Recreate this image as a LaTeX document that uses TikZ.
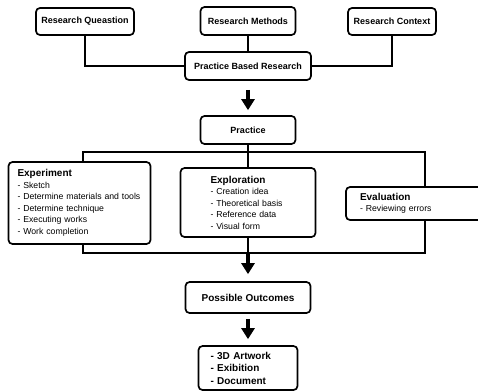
\documentclass[tikz,border=0pt]{standalone}
\usepackage{fontspec}
\setmainfont{Liberation Sans}
\usetikzlibrary{arrows.meta}
\tikzset{
  x=1pt, y=-1pt,
  box/.style={draw=black, line width=1.7pt, rounded corners=4pt, fill=white, align=center, inner sep=2pt},
  smallbox/.style={box, font=\fontsize{9}{11}\selectfont\bfseries},
  listbox/.style={box, align=left, font=\fontsize{8.7}{11.5}\selectfont},
  conn/.style={draw=black, line width=1.1pt},
  bigarrow/.style={draw=black, line width=4.5pt, -{Triangle[width=13pt,length=11pt]}}
}
\newcommand{\hd}[1]{{\fontsize{10}{12}\selectfont\bfseries #1}}
\begin{document}
\begin{tikzpicture}
\clip (0,0) rectangle (478,391);
\fill[white] (0,0) rectangle (478,391);
% bus coordinates
\coordinate (tl) at (83,152);
\coordinate (tr) at (425,152);
\coordinate (bl) at (83,253);
\coordinate (br) at (425,253);
% top row
\node[smallbox, minimum width=98pt, minimum height=27pt] (rq) at (85,21.5) {Research Queastion};
\node[smallbox, minimum width=95pt, minimum height=28pt] (rm) at (248,21) {Research Methods};
\node[smallbox, minimum width=88pt, minimum height=27pt] (rc) at (392,21.5) {Research Context};
\node[smallbox, minimum width=126pt, minimum height=28pt] (pbr) at (248,66) {Practice Based Research};
\node[smallbox, minimum width=95pt, minimum height=28pt] (prac) at (248,130) {Practice};
% middle row
\node[listbox, minimum width=141pt, minimum height=82pt, text width=124pt, inner xsep=9pt] (exper) at (79.5,203)
  {\hd{Experiment}\\- Sketch\\- Determine materials and tools\\- Determine technique\\- Executing works\\- Work completion};
\node[listbox, minimum width=135pt, minimum height=69pt, text width=75pt, inner xsep=30pt] (expl) at (248,202.5)
  {\hd{Exploration}\\- Creation idea\\- Theoretical basis\\- Reference data\\- Visual form};
\node[listbox, minimum width=139pt, minimum height=33pt, text width=111pt, inner xsep=14pt] (evalu) at (415.5,203.5)
  {\hd{Evaluation}\\- Reviewing errors};
% bottom
\node[box, font=\fontsize{10}{12}\selectfont\bfseries, minimum width=125pt, minimum height=31pt] (po) at (248,297.5) {Possible Outcomes};
\node[box, align=left, font=\fontsize{10}{12.5}\selectfont\bfseries, minimum width=99pt, minimum height=44pt, text width=75pt, inner xsep=12pt] (out) at (248,368)
  {- 3D Artwork\\- Exibition\\- Document};
% connectors top
\draw[conn] (rq.south) |- (pbr.west);
\draw[conn] (rm.south) -- (pbr.north);
\draw[conn] (rc.south) |- (pbr.east);
\draw[bigarrow, shorten <=9pt, shorten >=5pt] (pbr.south) -- (prac.north);
% middle buses
\draw[conn] (prac.south) -- (expl.north);
\draw[conn] (tl |- exper.north) -- (tl) -- (tr) -- (tr |- evalu.north);
\draw[conn] (bl |- exper.south) -- (bl) -- (br) -- (br |- evalu.south);
\coordinate (j) at (expl.south |- bl);
\draw[conn] (expl.south) -- (j);
\draw[bigarrow, shorten >=7pt] (j) -- (po.north);
\draw[bigarrow, shorten <=5pt, shorten >=6pt] (po.south) -- (out.north);
\end{tikzpicture}
\end{document}
